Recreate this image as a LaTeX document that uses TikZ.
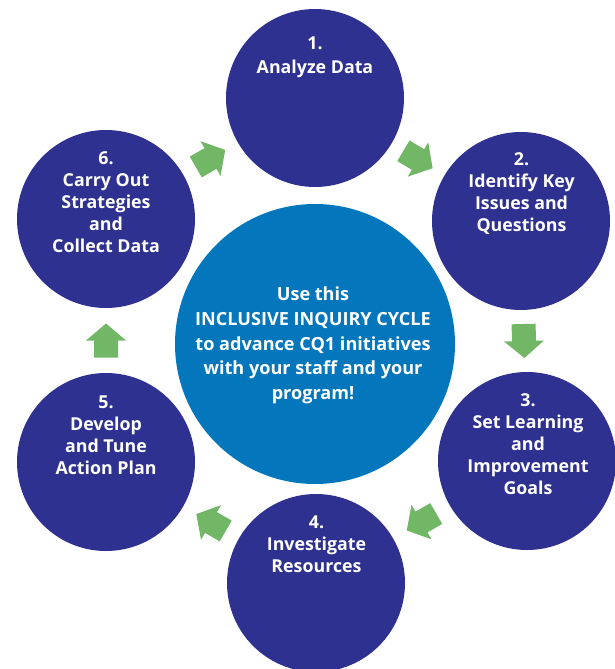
\documentclass[tikz,border=0pt]{standalone}
\usepackage{fontspec}
\setmainfont{Open Sans}
\definecolor{navy}{RGB}{46,49,144}
\definecolor{hub}{RGB}{4,118,187}
\definecolor{arrgreen}{RGB}{114,183,101}
\begin{document}
\begin{tikzpicture}[x=1pt,y=-1pt,
  cyc/.style={circle, fill=navy, minimum size=178pt, inner sep=0pt},
  hubc/.style={circle, fill=hub, minimum size=280pt, inner sep=0pt},
  lbl/.style={text=white, align=center, font=\fontsize{17.8}{22}\selectfont\bfseries, inner sep=0pt},
  hublbl/.style={text=white, align=center, font=\fontsize{18.1}{24.75}\selectfont\bfseries, inner sep=0pt},
  flowarr/.pic={\fill[arrgreen] (-17,-12) -- (0,-12) -- (0,-20) -- (17,0) -- (0,20) -- (0,12) -- (-17,12) -- cycle;}
]
\useasboundingbox (0,0) rectangle (615,669);
\node[hubc] (hub) at (315,344) {};
\node[cyc] (c1) at (315,98) {};
\node[cyc] (c2) at (521,221) {};
\node[cyc] (c3) at (527,461) {};
\node[cyc] (c4) at (316,583) {};
\node[cyc] (c5) at (106,462) {};
\node[cyc] (c6) at (106,219) {};

\node[lbl] (t1) at (315,57.5) {1.\\[2.5pt]Analyze Data};
\node[lbl] (t2) at (521.5,193.5) {2.\\Identify Key\\Issues and\\Questions};
\node[lbl] (t3) at (528,444.5) {3.\\Set Learning\\and\\Improvement\\Goals};
\node[lbl] (t4) at (316.5,544.5) {4.\\Investigate\\Resources};
\node[lbl] (t5) at (106,435) {5.\\Develop\\and Tune\\Action Plan};
\node[lbl] (t6) at (106,202) {6.\\Carry Out\\Strategies\\and\\Collect Data};
\node[hublbl] (th) at (313,345.5) {Use this\\INCLUSIVE INQUIRY CYCLE\\to advance CQ1 initiatives\\with your staff and your\\program!};

\path (c1) -- pic[sloped, allow upside down]{flowarr} (c2);
\path (c2) -- pic[sloped, allow upside down]{flowarr} (c3);
\path (c3) -- pic[sloped, allow upside down]{flowarr} (c4);
\path (c4) -- pic[sloped, allow upside down]{flowarr} (c5);
\path (c5) -- pic[sloped, allow upside down]{flowarr} (c6);
\path (c6) -- pic[sloped, allow upside down]{flowarr} (c1);
\end{tikzpicture}
\end{document}
